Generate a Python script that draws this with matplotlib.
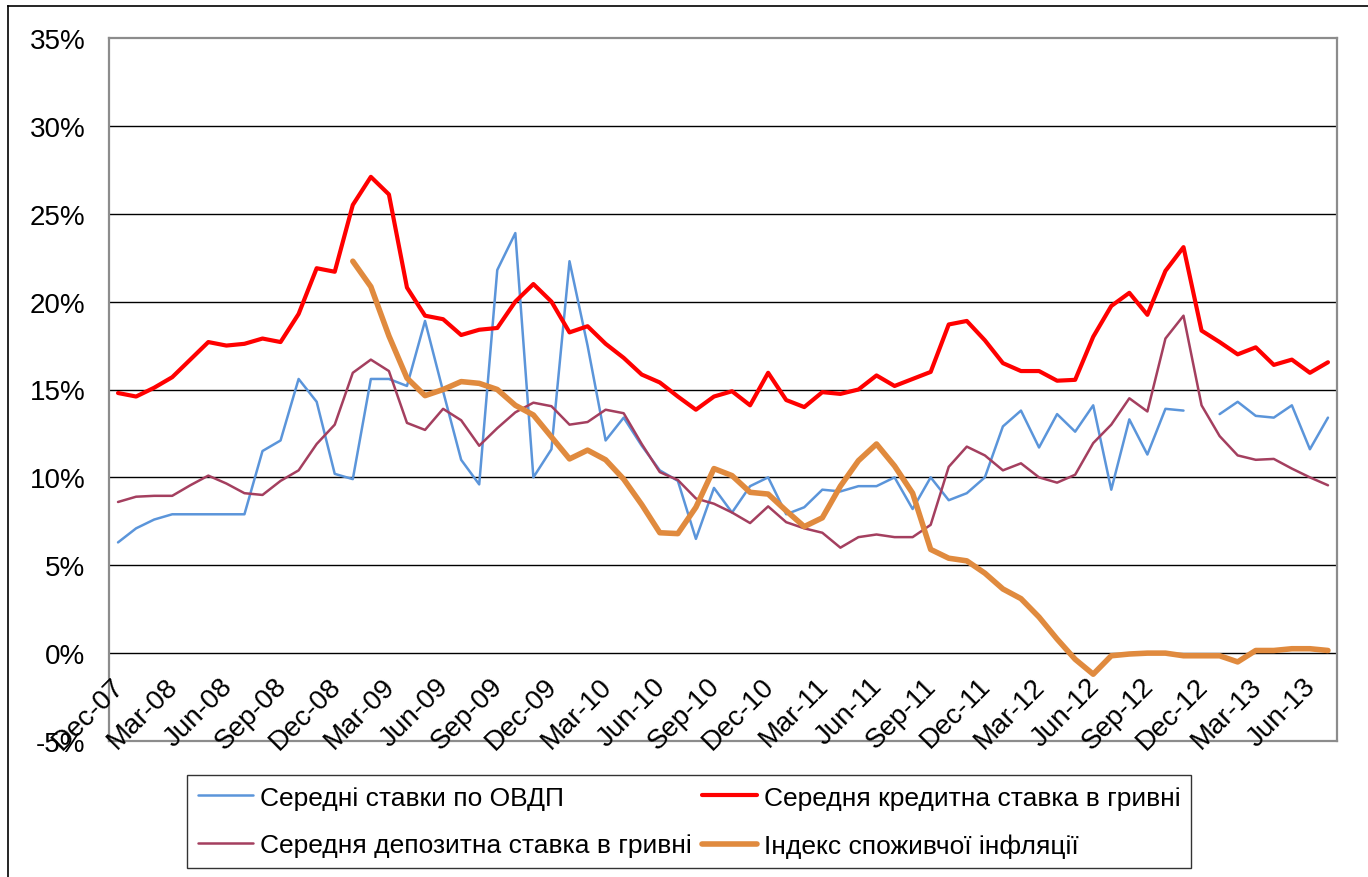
import numpy as np
import pandas as pd
import matplotlib
matplotlib.use("Agg")
import matplotlib.pyplot as plt
from matplotlib.lines import Line2D

plt.rcParams['font.family'] = ['Liberation Sans', 'DejaVu Sans']

# -----------------------------
# Data (monthly, Dec-07 .. Jul-13), %
# -----------------------------
months = pd.date_range("2007-12-01", periods=68, freq="MS")
tick_idx = list(range(0, 68, 3))
tick_labels = ["Dec-07", "Mar-08", "Jun-08", "Sep-08", "Dec-08", "Mar-09", "Jun-09", "Sep-09",
               "Dec-09", "Mar-10", "Jun-10", "Sep-10", "Dec-10", "Mar-11", "Jun-11", "Sep-11",
               "Dec-11", "Mar-12", "Jun-12", "Sep-12", "Dec-12", "Mar-13", "Jun-13"]

ovdp = [6.3, 7.1, 7.6, 7.9, 7.9, 7.9, 7.9, 7.9, 11.5, 12.1, 15.6, 14.3,
        10.2, 9.9, 15.6, 15.6, 15.2, 18.9, 14.9, 11.0, 9.6, 21.8, 23.9, 10.0,
        11.6, 22.3, 17.5, 12.1, 13.4, 11.8, 10.4, 9.8, 6.5, 9.4, 8.0, 9.5,
        10.0, 7.9, 8.3, 9.3, 9.2, 9.5, 9.5, 10.0, 8.2, 10.0, 8.7, 9.1,
        10.0, 12.9, 13.8, 11.7, 13.6, 12.6, 14.1, 9.3, 13.3, 11.3, 13.9, 13.8,
        np.nan, 13.6, 14.3, 13.5, 13.4, 14.1, 11.6, 13.4]

credit = [14.8, 14.6, 15.1, 15.7, 16.7, 17.7, 17.5, 17.6, 17.9, 17.7, 19.3, 21.9,
          21.7, 25.5, 27.1, 26.1, 20.8, 19.2, 19.0, 18.1, 18.4, 18.5, 20.0, 21.0,
          20.0, 18.25, 18.6, 17.6, 16.8, 15.85, 15.4, 14.6, 13.85, 14.6, 14.9, 14.1,
          15.95, 14.4, 14.0, 14.85, 14.75, 15.0, 15.8, 15.2, 15.6, 16.0, 18.7, 18.9,
          17.8, 16.5, 16.05, 16.05, 15.5, 15.55, 18.0, 19.75, 20.5, 19.25, 21.75, 23.1,
          18.35, 17.7, 17.0, 17.4, 16.4, 16.7, 15.95, 16.55]

deposit = [8.6, 8.9, 8.95, 8.95, 9.55, 10.1, 9.65, 9.1, 9.0, 9.8, 10.4, 11.9,
           13.0, 15.95, 16.7, 16.05, 13.1, 12.7, 13.9, 13.25, 11.8, 12.8, 13.7, 14.25,
           14.05, 13.0, 13.15, 13.85, 13.65, 11.9, 10.3, 9.85, 8.8, 8.5, 8.0, 7.4,
           8.35, 7.45, 7.1, 6.85, 6.0, 6.6, 6.75, 6.6, 6.6, 7.3, 10.6, 11.75,
           11.25, 10.4, 10.8, 10.0, 9.7, 10.15, 11.95, 13.0, 14.5, 13.75, 17.9, 19.2,
           14.1, 12.35, 11.25, 11.0, 11.05, 10.5, 10.0, 9.55]

inflation = [np.nan] * 13 + [
             22.3, 20.85, 18.05, 15.65, 14.65, 15.0, 15.45, 15.35, 15.0, 14.1, 13.55,
             12.3, 11.05, 11.55, 11.0, 9.9, 8.45, 6.85, 6.8, 8.3, 10.5, 10.1, 9.15,
             9.05, 8.1, 7.2, 7.7, 9.5, 10.95, 11.9, 10.65, 9.1, 5.9, 5.4, 5.25,
             4.55, 3.65, 3.1, 2.05, 0.8, -0.35, -1.2, -0.15, -0.05, 0.0, 0.0, -0.15,
             -0.15, -0.15, -0.5, 0.15, 0.15, 0.25, 0.25, 0.15]

series_names = ["Середні ставки по ОВДП", "Середня кредитна ставка в гривні",
                "Середня депозитна ставка в гривні", "Індекс споживчої інфляції"]
colors = ["#5B95DA", "#FF0000", "#A43F5F", "#E08A3E"]
widths = [1.8, 3.0, 1.8, 4.0]

# -----------------------------
# Figure
# -----------------------------
fig = plt.figure(figsize=(13.68, 8.78), dpi=100)
ax = fig.add_axes([109/1368, 1-742/878, (1337-109)/1368, (742-39)/878])

x = np.arange(len(months))
handles = []
for vals, name, c, lw in zip([ovdp, credit, deposit, inflation], series_names, colors, widths):
    h, = ax.plot(x, vals, color=c, lw=lw, label=name, solid_joinstyle="round",
                 solid_capstyle="round")
    handles.append(h)

ax.set_xlim(-0.5, len(months) - 0.5)
ax.set_ylim(-5, 35)
ax.set_yticks(range(-5, 36, 5))
ax.set_yticklabels([f"{v}%" for v in range(-5, 36, 5)], fontsize=20)
ax.tick_params(axis="y", length=0, pad=17)
ax.set_xticks([])
for v in range(0, 35, 5):
    ax.axhline(v, color="black", lw=1.0, zorder=0)
for s in ax.spines.values():
    s.set_color("#8C8C8C")
    s.set_linewidth(1.6)

# category labels sit under the 0% line (Excel axis crosses at zero)
for i, lab in zip(tick_idx, tick_labels):
    ax.text(i - 0.4, -1.1, lab, rotation=45, rotation_mode="anchor",
            ha="right", va="top", fontsize=20, clip_on=False)

# outer chart border (top and left)
fig.add_artist(Line2D([8/1368, 8/1368], [0, 1-7/878], color="black", lw=1.2,
                      transform=fig.transFigure))
fig.add_artist(Line2D([8/1368, 1], [1-7/878, 1-7/878], color="black", lw=1.2,
                      transform=fig.transFigure))

leg = fig.legend([handles[0], handles[2], handles[1], handles[3]],
                 [series_names[0], series_names[2], series_names[1], series_names[3]],
                 ncol=2, loc="upper left", bbox_to_anchor=(187/1368, 1-776/878),
                 fontsize=19, frameon=True, fancybox=False, edgecolor="black",
                 handlelength=2.1, handletextpad=0.25, columnspacing=0.4,
                 borderpad=0.4, labelspacing=0.9, borderaxespad=0)
leg.get_frame().set_linewidth(1.0)

fig.savefig("out.png", dpi=100)
